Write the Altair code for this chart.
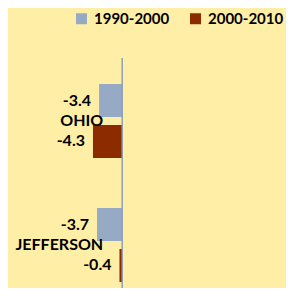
import altair as alt
import pandas as pd

counties = ["OHIO", "OHIO", "JEFFERSON", "JEFFERSON"]
periods = ["1990-2000", "2000-2010", "1990-2000", "2000-2010"]
changes = [-3.4, -4.3, -3.7, -0.4]
county_order = ["OHIO", "JEFFERSON"]
period_order = ["1990-2000", "2000-2010"]
period_colors = ["#97AAC5", "#8C2A00"]

BG = "#FFEFA6"
FONT = "Lato"

df = pd.DataFrame({"county": counties, "period": periods, "change": changes})
df["label"] = [f"{v:.1f}" for v in changes]
cats = pd.DataFrame({"county": county_order})

xs = alt.Scale(domain=[-16.8, 24.1], nice=False, zero=False)
ys = alt.Scale(range=[0, 248], paddingInner=0, paddingOuter=0)
x = alt.X("change:Q", scale=xs, axis=None)
y = alt.Y("county:N", sort=county_order, scale=ys, axis=None)
yoff = alt.YOffset("period:N", sort=period_order,
                   scale=alt.Scale(paddingInner=0.195, paddingOuter=0.61))

bars = alt.Chart(df).mark_bar().encode(
    x=x, y=y, yOffset=yoff,
    color=alt.Color("period:N", sort=period_order,
                    scale=alt.Scale(domain=period_order, range=period_colors),
                    legend=alt.Legend(title=None, orient="none", direction="horizontal",
                                      legendX=66, legendY=-48,
                                      symbolType="square", symbolSize=121,
                                      symbolStrokeWidth=0, symbolOpacity=1,
                                      labelFont=FONT, labelFontSize=15,
                                      labelFontWeight="bold", labelColor="#000000",
                                      labelOffset=5, columnPadding=18)),
)

vals = alt.Chart(df).mark_text(align="right", baseline="middle", dx=-8,
                               font=FONT, fontSize=16, fontWeight="bold",
                               color="#000000").encode(
    x=x, y=y, yOffset=yoff, text="label:N")

catlab = alt.Chart(cats).mark_text(align="right", baseline="middle", dx=-19,
                                   font=FONT, fontSize=16, fontWeight="bold",
                                   color="#000000").encode(
    x=alt.XDatum(0, axis=None, scale=xs), y=y, text="county:N")

axisline = alt.Chart(cats).mark_rule(color="#8C9BB5", strokeWidth=1).encode(
    x=alt.XDatum(0, axis=None, scale=xs), y=alt.value(-1), y2=alt.value(260))

chart = alt.layer(bars, axisline, vals, catlab).properties(
    width=278, height=229, background=BG,
    padding={"left": 0, "top": 51, "right": 0, "bottom": 0},
    autosize=alt.AutoSizeParams(type="none"),
).configure_view(stroke=None)

chart.save("out.html", embed_options={"renderer": "svg", "actions": False})
